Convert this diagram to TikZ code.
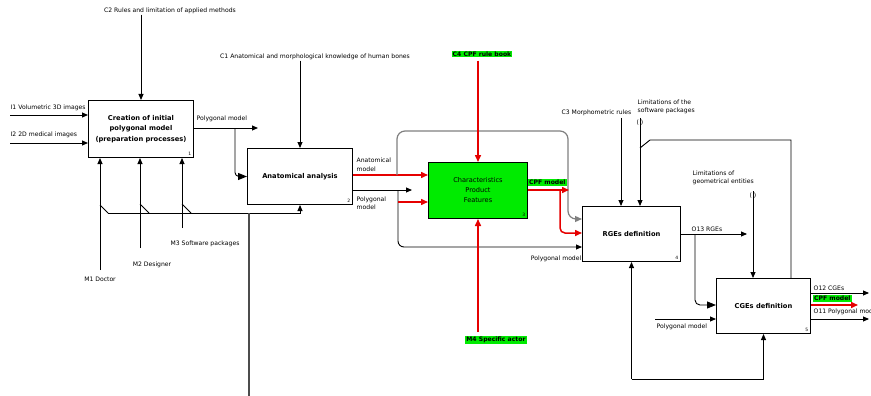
\documentclass[tikz,border=0pt]{standalone}
\usepackage{fontspec}
\setmainfont{DejaVu Sans}
\usetikzlibrary{arrows.meta,calc}
\definecolor{cpfgreen}{RGB}{0,235,0}
\definecolor{myred}{RGB}{230,0,0}
\begin{document}
\begin{tikzpicture}[x=1pt,y=-1pt,
  lab/.style={inner sep=0.5pt, font=\fontsize{6.1}{8.6}\selectfont, align=left},
  glab/.style={lab, fill=cpfgreen, inner sep=1pt, font=\fontsize{6.1}{8.6}\selectfont\bfseries},
  abox/.style={draw, line width=1pt, anchor=north west, inner sep=0pt, align=center, font=\fontsize{6.7}{10.5}\selectfont\bfseries},
  ln/.style={draw, line width=0.9pt},
  arr/.style={ln, -{Triangle[length=6pt,width=5pt]}},
  bigarr/.style={ln, -{Triangle[length=9pt,width=7pt]}},
  rarr/.style={draw=myred, line width=1.5pt, -{Triangle[length=7pt,width=6pt]}},
  garr/.style={draw=gray, line width=1.2pt, -{Triangle[length=7pt,width=6pt]}},
  num/.style={font=\fontsize{4.5}{4.5}\selectfont, inner sep=0.5pt, anchor=south east},
]
\useasboundingbox (0,0) rectangle (871,396);
\fill[white] (0,0) rectangle (871,396);
\clip (0,0) rectangle (871,396);

% boxes
\node[abox, minimum width=105pt, minimum height=57pt] (b1) at (88,100) {Creation of initial\\polygonal model\\(preparation processes)};
\node[abox, minimum width=105pt, minimum height=56pt] (b2) at (247,148) {Anatomical analysis};
\node[abox, fill=cpfgreen, font=\fontsize{6.6}{10}\selectfont, minimum width=99pt, minimum height=56pt] (b3) at (428,162) {Characteristics\\Product\\Features};
\node[abox, minimum width=98pt, minimum height=55pt] (b4) at (582,206) {RGEs definition};
\node[abox, minimum width=94pt, minimum height=55pt] (b5) at (716,278) {CGEs definition};
\node[num] (n1) at ($(b1.south east)+(-2,-2)$) {1};
\node[num] (n2) at ($(b2.south east)+(-2,-2)$) {2};
\node[num] (n3) at ($(b3.south east)+(-2,-2)$) {3};
\node[num] (n4) at ($(b4.south east)+(-2,-2)$) {4};
\node[num] (n5) at ($(b5.south east)+(-2,-2)$) {5};

% box 1
\node[lab] (lC2) at (170,11) {C2 Rules and limitation of applied methods};
\draw[arr] (lC2.south -| b1.north) -- (b1.north);
\node[lab, anchor=west] (lI1) at (10,108) {I1 Volumetric 3D images};
\coordinate (cI1) at (10,115);
\draw[arr] (cI1) -- (cI1 -| b1.west);
\node[lab, anchor=west] (lI2) at (10,135) {I2 2D medical images};
\coordinate (cI2) at (10,143);
\draw[arr] (cI2) -- (cI2 -| b1.west);
\coordinate (o1) at ($(b1.north east)+(0,28)$);
\coordinate (o1e) at (258,128);
\draw[arr] (o1) -- (o1e);
\node[lab, anchor=west] (lo1) at (196,119) {Polygonal model};
\coordinate (o1b) at (235,128);
\draw[bigarr, rounded corners=4pt] (o1b) -- (o1b |- b2.west) -- (b2.west);

% mechanisms of box 1
\coordinate (m1) at (100,270);
\coordinate (m2) at (140,248);
\coordinate (m3) at (182,228);
\draw[arr] (m1) -- (m1 |- b1.south);
\draw[arr] (m2) -- (m2 |- b1.south);
\draw[arr] (m3) -- (m3 |- b1.south);
\node[lab] (lM1) at (100,279) {M1 Doctor};
\node[lab] (lM2) at (152,265) {M2 Designer};
\node[lab] (lM3) at (205,244) {M3 Software packages};
\coordinate (h0) at (108,213);
\draw[ln] (100,205) -- (h0);
\draw[ln] (140,204) -- (149,213);
\draw[ln] (182,204) -- (191,213);
\draw[arr] (h0) -- (h0 -| b2.south) -- (b2.south);
\draw[draw=gray!60!black, line width=1.2pt] (249,213) -- (249,396);

% box 2
\node[lab] (lC1) at (315,57) {C1 Anatomical and morphological knowledge of human bones};
\draw[arr] (lC1.south -| b2.north) -- (b2.north);
\coordinate (p2a) at ($(b2.north east)+(0,27)$);
\draw[rarr] (p2a) -- (p2a -| b3.west);
\node[lab, anchor=south west] (lam) at (356,172) {Anatomical\\model};
\coordinate (g0) at (397,175);
\draw[garr, rounded corners=8pt] (g0) -- (397,131) -- (568,131) -- (568,219) -- ($(b4.north west)+(0,13)$);
\coordinate (p2b) at ($(b2.north east)+(0,42)$);
\draw[arr] (p2b) -- (412,190);
\draw[arr, rounded corners=6pt] (398,190) -- (398,247) -- ($(b4.north west)+(0,41)$);
\draw[rarr] (398,202) -- ($(b3.north west)+(0,40)$);
\node[lab, anchor=north west] (lpm2) at (356,196) {Polygonal\\model};
\node[lab, anchor=east] (lpm4) at (582,259) {Polygonal model};

% box 3
\node[glab] (lC4) at (482,54) {C4 CPF rule book};
\draw[rarr] ($(lC4.south -| b3.north)+(0,3)$) -- (b3.north);
\node[glab] (lM4) at (496,340) {M4 Specific actor};
\coordinate (m4) at (478,332);
\draw[rarr] (b3.south |- m4) -- (b3.south);
\coordinate (p3) at ($(b3.north east)+(0,28)$);
\draw[rarr] (p3) -- (569,190);
\draw[rarr, rounded corners=5pt] (560,190) -- (560,233) -- ($(b4.north west)+(0,27)$);
\node[glab, anchor=south west] (lcpf3) at (528,186) {CPF model};

% box 4
\node[lab, anchor=east] (lC3) at (632,113) {C3 Morphometric rules};
\coordinate (c3) at (621,118);
\draw[arr] (c3) -- (c3 |- b4.north);
\node[lab, anchor=north west] (lLS) at (637,99) {Limitations of the\\software packages};
\node[lab] (tun1) at (640,123) {(\hspace{2pt})};
\coordinate (c5) at (640,118);
\draw[arr] (c5) -- (c5 |- b4.north);
\coordinate (t1) at (791,140);
\draw[ln] (640,148) -- (650,140) -- (t1) -- (t1 |- b5.north);
\node[lab, anchor=north west] (lLG) at (692,170) {Limitations of\\geometrical entities};
\node[lab] (tun2) at (753,196) {(\hspace{2pt})};
\coordinate (c6) at (753,191);
\draw[arr] (c6) -- (c6 |- b5.north);
\coordinate (p4) at ($(b4.north east)+(0,28)$);
\draw[arr] (p4) -- (747,234);
\node[lab, anchor=south west] (lO13) at (691,232) {O13 RGEs};
\draw[bigarr, rounded corners=5pt] (695,234) -- (695,305) -- ($(b5.north west)+(0,27)$);

% box 5
\coordinate (i5) at (655,319);
\draw[arr] (i5) -- (i5 -| b5.west);
\node[lab, anchor=north west] (lpm5) at (656,323) {Polygonal model};
\coordinate (bm) at (631,379);
\draw[arr] (bm -| b4.south) -- (b4.south);
\draw[arr] (bm -| b4.south) -- (bm -| b5.south) -- (b5.south);
\coordinate (o12) at ($(b5.north east)+(0,15)$);
\draw[arr] (o12) -- (869,293);
\node[lab, anchor=south west] (lO12) at (813,291) {O12 CGEs};
\coordinate (o5r) at ($(b5.north east)+(0,27)$);
\draw[rarr] (o5r) -- (858,305);
\node[glab, anchor=west] (lcpf5) at (813,298.5) {CPF model};
\coordinate (o11) at ($(b5.north east)+(0,41)$);
\draw[arr] (o11) -- (869,319);
\node[lab, anchor=west] (lO11) at (813,312) {O11 Polygonal model};
\end{tikzpicture}
\end{document}
